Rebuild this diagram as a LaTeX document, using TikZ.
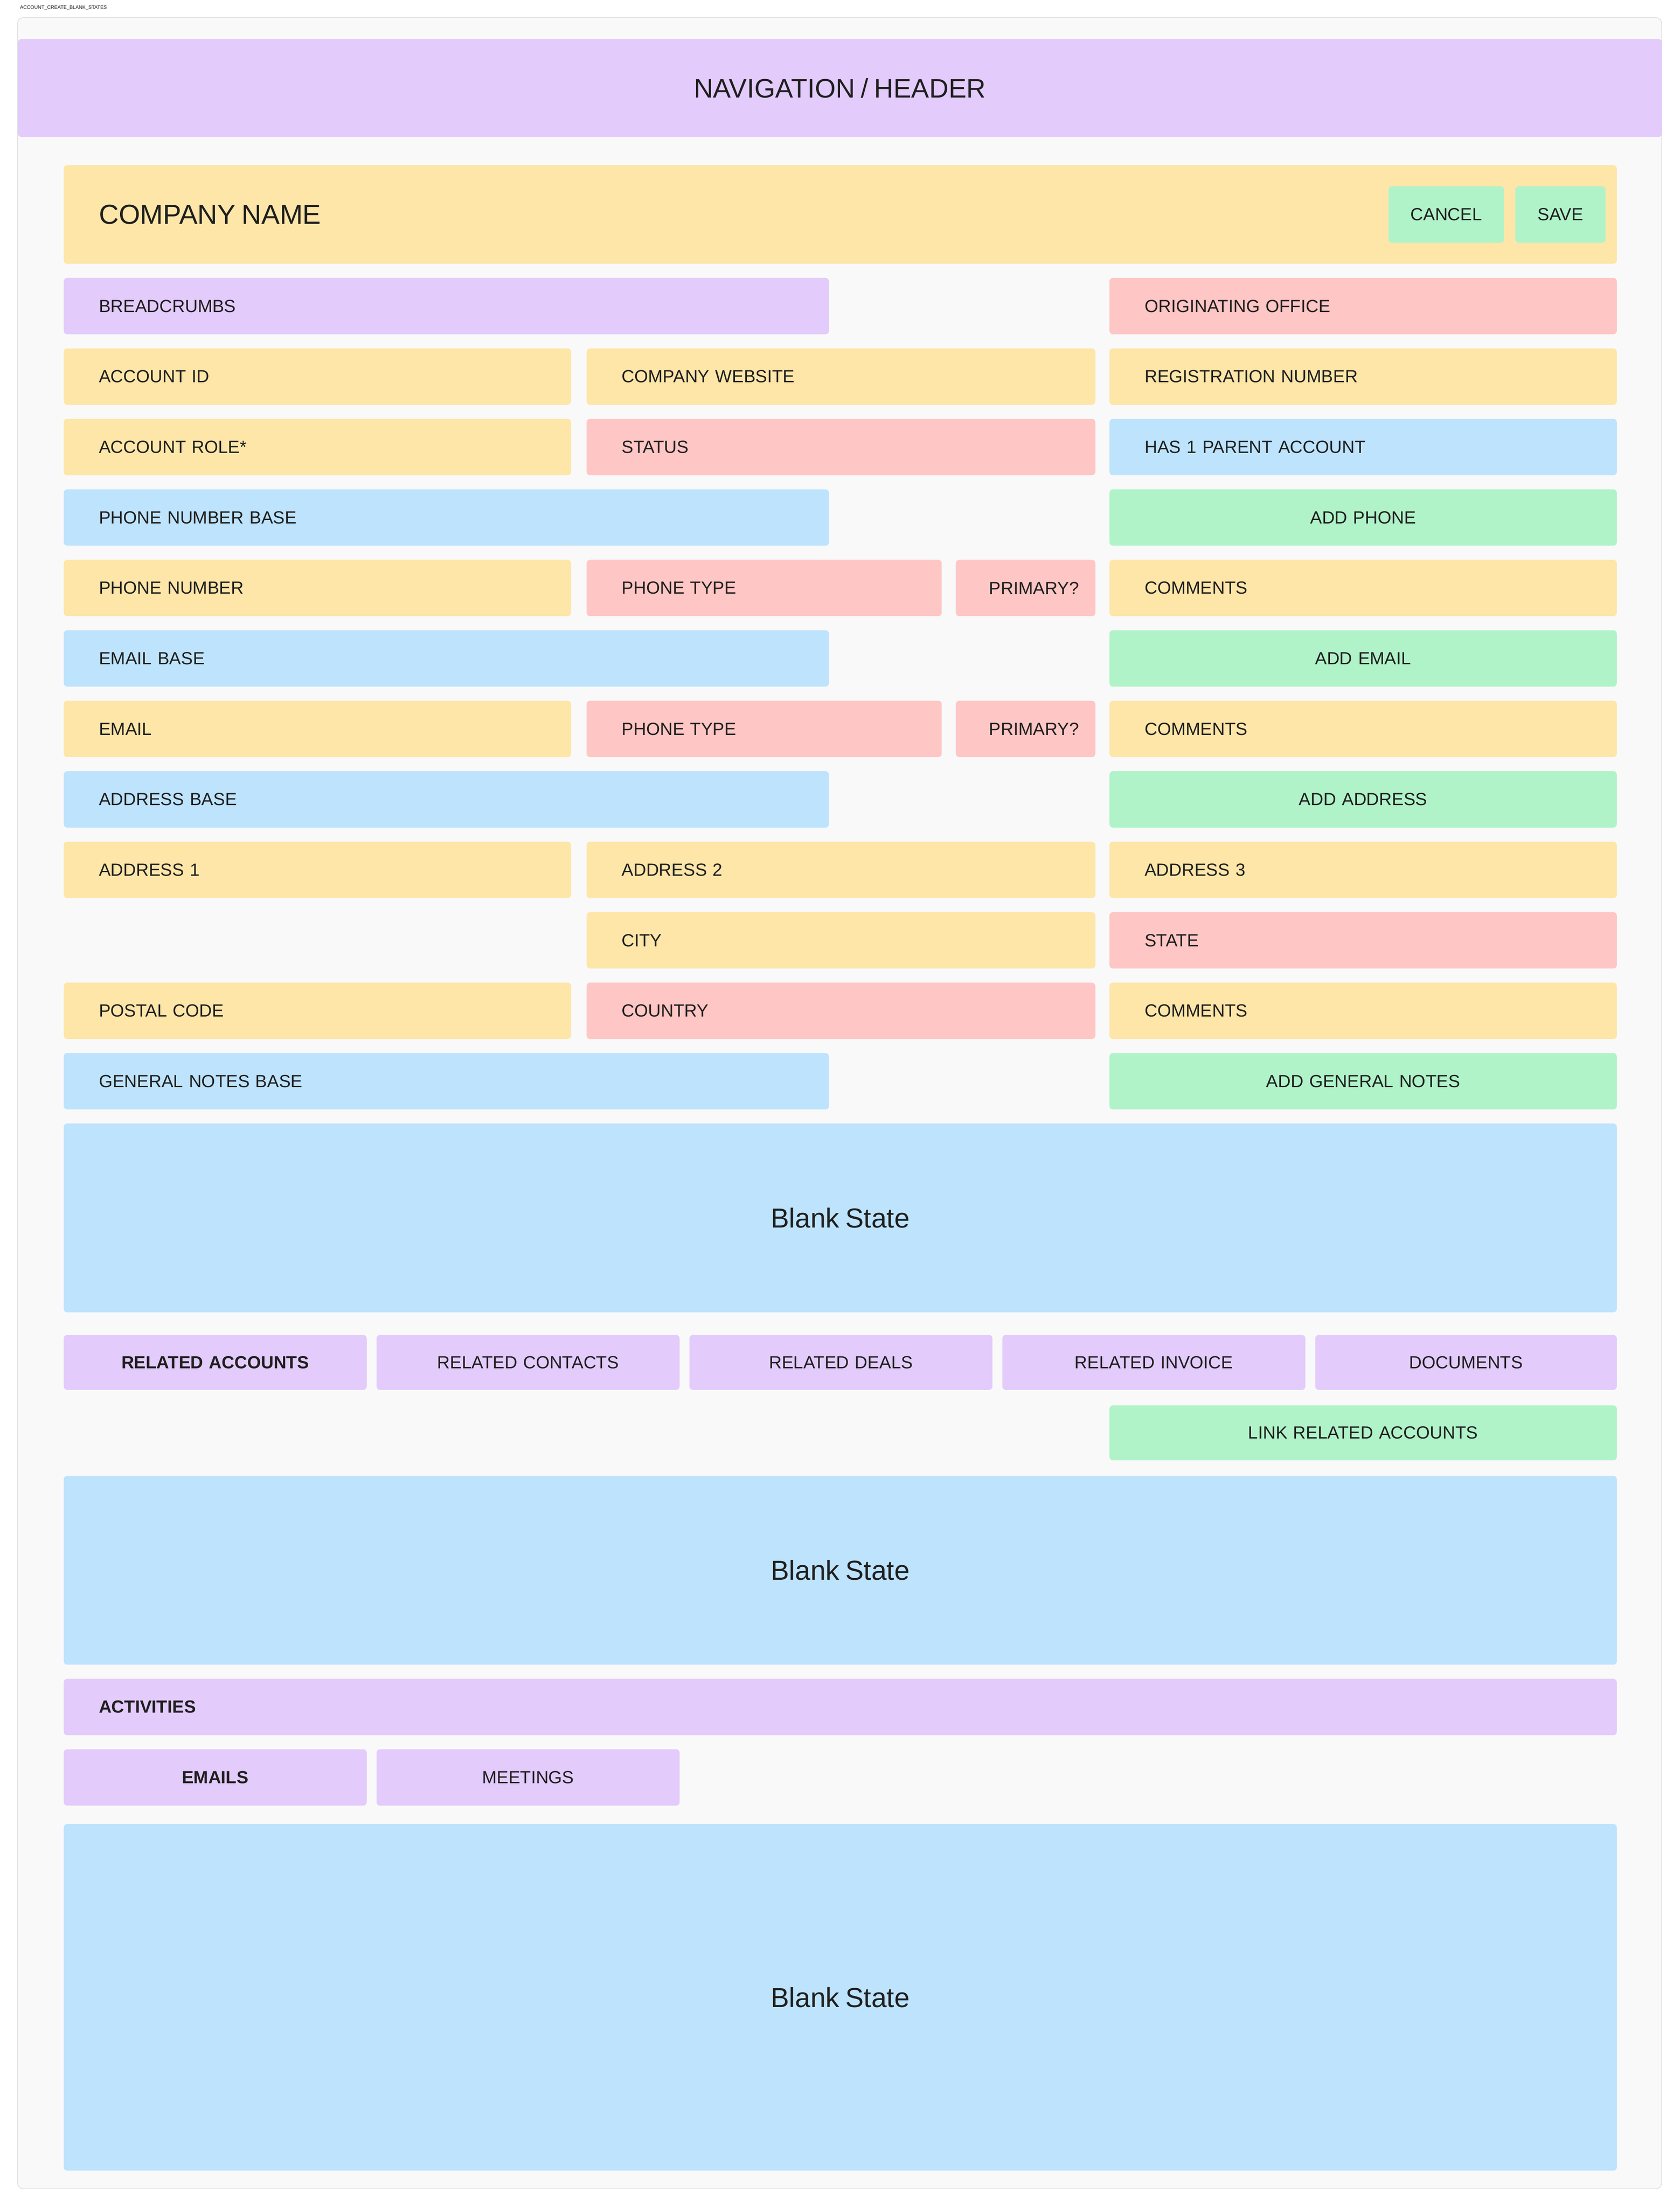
\documentclass[tikz,border=0pt]{standalone}
\usepackage{fontspec}
\setmainfont{Liberation Sans}
\definecolor{pur}{HTML}{E3CBFC}
\definecolor{yel}{HTML}{FDE6A8}
\definecolor{red}{HTML}{FEC6C4}
\definecolor{blu}{HTML}{BEE3FD}
\definecolor{grn}{HTML}{B0F3C9}
\definecolor{bg}{HTML}{F9F9F9}
\definecolor{ink}{HTML}{1F1F1F}
\newcommand\mybx[8]{% name x1 y1 x2 y2 color align text
  \pgfmathsetmacro\bw{#4-#2}\pgfmathsetmacro\bh{#5-#3}\pgfmathsetmacro\tw{#4-#2-50}
  \node[box,fill=#6,minimum width=\bw pt,minimum height=\bh pt,text width=\tw pt,align=#7,anchor=north west] (#1) at (#2pt,-#3pt) {#8};}
\begin{document}
\begin{tikzpicture}[x=1pt,y=1pt,
  box/.style={rounded corners=2.5pt,inner xsep=25pt,inner ysep=0pt,text=ink,font=\fontsize{12.5}{14}\selectfont},
  btn/.style={box,inner xsep=0pt,minimum height=40pt,anchor=north west}]
\useasboundingbox (0,0) rectangle (1192,-1566);
\fill[white] (0,0) rectangle (1192,-1566);
\node[anchor=west,font=\fontsize{3.5}{4}\selectfont,text=ink,inner sep=0] (title) at (14,-5.6) {ACCOUNT\_CREATE\_BLANK\_STATES};
\draw[fill=bg,draw=black!12,line width=0.5pt,rounded corners=4pt] (12.5,-12.5) rectangle (1179,-1553);
\mybx{nav}{12.5}{27.5}{1179}{97}{pur}{center}{\fontsize{19}{22}\selectfont NAVIGATION / HEADER}
\mybx{comp}{45}{117}{1147}{187}{yel}{left}{\fontsize{19.5}{22}\selectfont COMPANY NAME}
\node[btn,fill=grn,minimum width=82pt] (cancel) at (985pt,-132pt) {CANCEL};
\node[btn,fill=grn,minimum width=64pt] (save) at (1075pt,-132pt) {SAVE};
% rows
\mybx{bread}{45}{197}{588}{237}{pur}{left}{BREADCRUMBS}
\mybx{orig}{787}{197}{1147}{237}{red}{left}{ORIGINATING OFFICE}
\mybx{accid}{45}{247}{405}{287}{yel}{left}{ACCOUNT ID}
\mybx{web}{416}{247}{777}{287}{yel}{left}{COMPANY WEBSITE}
\mybx{reg}{787}{247}{1147}{287}{yel}{left}{REGISTRATION NUMBER}
\mybx{role}{45}{297}{405}{337}{yel}{left}{ACCOUNT ROLE*}
\mybx{status}{416}{297}{777}{337}{red}{left}{STATUS}
\mybx{parent}{787}{297}{1147}{337}{blu}{left}{HAS 1 PARENT ACCOUNT}
\mybx{phb}{45}{347}{588}{387}{blu}{left}{PHONE NUMBER BASE}
\mybx{addph}{787}{347}{1147}{387}{grn}{center}{ADD PHONE}
\mybx{phn}{45}{397}{405}{437}{yel}{left}{PHONE NUMBER}
\mybx{pht}{416}{397}{668}{437}{red}{left}{PHONE TYPE}
\node[btn,fill=red,minimum width=99pt] (pp1) at (678pt,-397pt) {\hspace*{12pt}PRIMARY?};
\mybx{com1}{787}{397}{1147}{437}{yel}{left}{COMMENTS}
\mybx{emb}{45}{447}{588}{487}{blu}{left}{EMAIL BASE}
\mybx{addem}{787}{447}{1147}{487}{grn}{center}{ADD EMAIL}
\mybx{em}{45}{497}{405}{537}{yel}{left}{EMAIL}
\mybx{emt}{416}{497}{668}{537}{red}{left}{PHONE TYPE}
\node[btn,fill=red,minimum width=99pt] (pp2) at (678pt,-497pt) {\hspace*{12pt}PRIMARY?};
\mybx{com2}{787}{497}{1147}{537}{yel}{left}{COMMENTS}
\mybx{adb}{45}{547}{588}{587}{blu}{left}{ADDRESS BASE}
\mybx{addad}{787}{547}{1147}{587}{grn}{center}{ADD ADDRESS}
\mybx{a1}{45}{597}{405}{637}{yel}{left}{ADDRESS 1}
\mybx{a2}{416}{597}{777}{637}{yel}{left}{ADDRESS 2}
\mybx{a3}{787}{597}{1147}{637}{yel}{left}{ADDRESS 3}
\mybx{city}{416}{647}{777}{687}{yel}{left}{CITY}
\mybx{state}{787}{647}{1147}{687}{red}{left}{STATE}
\mybx{postal}{45}{697}{405}{737}{yel}{left}{POSTAL CODE}
\mybx{country}{416}{697}{777}{737}{red}{left}{COUNTRY}
\mybx{com3}{787}{697}{1147}{737}{yel}{left}{COMMENTS}
\mybx{gnb}{45}{747}{588}{787}{blu}{left}{GENERAL NOTES BASE}
\mybx{addgn}{787}{747}{1147}{787}{grn}{center}{ADD GENERAL NOTES}
\mybx{blank1}{45}{797}{1147}{931}{blu}{center}{\fontsize{19.5}{22}\selectfont Blank State}
\mybx{t1}{45}{947}{260}{986}{pur}{center}{\bfseries RELATED ACCOUNTS}
\mybx{t2}{267}{947}{482}{986}{pur}{center}{RELATED CONTACTS}
\mybx{t3}{489}{947}{704}{986}{pur}{center}{RELATED DEALS}
\mybx{t4}{711}{947}{926}{986}{pur}{center}{RELATED INVOICE}
\mybx{t5}{933}{947}{1147}{986}{pur}{center}{DOCUMENTS}
\mybx{link}{787}{997}{1147}{1036}{grn}{center}{LINK RELATED ACCOUNTS}
\mybx{blank2}{45}{1047}{1147}{1181}{blu}{center}{\fontsize{19.5}{22}\selectfont Blank State}
\mybx{act}{45}{1191}{1147}{1231}{pur}{left}{\bfseries ACTIVITIES}
\mybx{emails}{45}{1241}{260}{1281}{pur}{center}{\bfseries EMAILS}
\mybx{meet}{267}{1241}{482}{1281}{pur}{center}{MEETINGS}
\mybx{blank3}{45}{1294}{1147}{1540}{blu}{center}{\fontsize{19.5}{22}\selectfont Blank State}
\end{tikzpicture}
\end{document}
